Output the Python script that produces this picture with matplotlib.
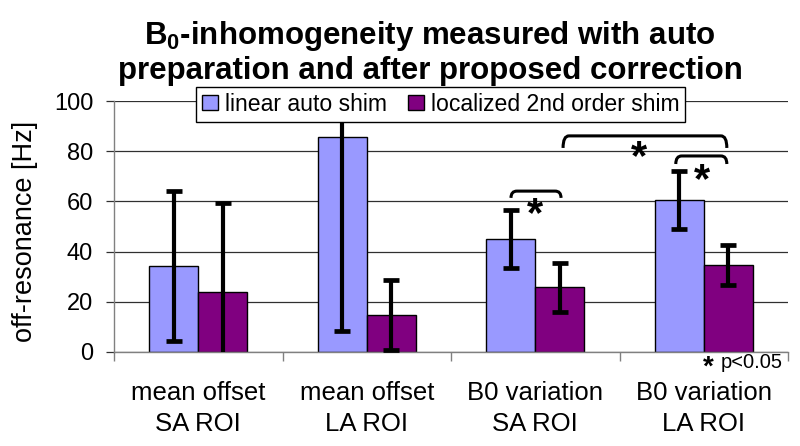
import matplotlib
matplotlib.use("Agg")
import matplotlib.pyplot as plt
from matplotlib import font_manager
from matplotlib.path import Path
from matplotlib.patches import PathPatch, Patch
import numpy as np

# ---- data ----
categories = ["mean offset\nSA ROI", "mean offset\nLA ROI", "B0 variation\nSA ROI", "B0 variation\nLA ROI"]
series_names = ["linear auto shim", "localized 2nd order shim"]
linear_vals = [34.3, 85.5, 45.0, 60.6]
linear_err = [29.8, 77.0, 11.4, 11.6]
local_vals = [24.0, 14.7, 25.8, 34.6]
local_err = [35.4, 14.0, 9.8, 8.0]
ylabel = "off-resonance [Hz]"
title_lines = [r"B$_\mathbf{0}$-inhomogeneity measured with auto", "preparation and after proposed correction"]
yticks = [0, 20, 40, 60, 80, 100]
# significance brackets: (x_start, x_end, y_end, y_top, star_x, star_y)
brackets = [(1.856, 2.153, 61.4, 64.1, 1.998, 58.6),
            (2.165, 3.137, 81.3, 86.1, 2.616, 81.3),
            (2.834, 3.137, 74.9, 78.1, 2.990, 72.1)]

names = {f.name for f in font_manager.fontManager.ttflist}
base_font = "Liberation Sans" if "Liberation Sans" in names else "DejaVu Sans"
narrow_font = "Liberation Sans Narrow" if "Liberation Sans Narrow" in names else base_font
plt.rcParams["font.family"] = [base_font, "DejaVu Sans"]
plt.rcParams["mathtext.fontset"] = "custom"
plt.rcParams["mathtext.rm"] = narrow_font
plt.rcParams["mathtext.bf"] = narrow_font + ":bold"

blue = "#9999FF"
purple = "#800080"

fig = plt.figure(figsize=(8, 4.46), dpi=100)
W, H = 800, 446
ax = fig.add_axes([114 / W, 1 - 352 / H, (788 - 114) / W, (352 - 101) / H])

x = np.arange(len(categories))
bw = 0.29
ax.bar(x - bw / 2, linear_vals, bw, color=blue, edgecolor="black", linewidth=1.0, zorder=2)
ax.bar(x + bw / 2, local_vals, bw, color=purple, edgecolor="black", linewidth=1.0, zorder=2)
ax.errorbar(x - bw / 2, linear_vals, yerr=linear_err, fmt="none", ecolor="black",
            elinewidth=3, capsize=5.5, capthick=3.4, zorder=3)
ax.errorbar(x + bw / 2, local_vals, yerr=local_err, fmt="none", ecolor="black",
            elinewidth=3, capsize=5.5, capthick=3.4, zorder=3)

ax.set_xlim(-0.5, 3.5)
ax.set_ylim(0, 100)
ax.set_yticks(yticks)
ax.set_yticklabels([str(t) for t in yticks], fontsize=17)
ax.tick_params(axis="y", direction="out", length=6, width=0.9, color="#303030", pad=9)
ax.set_xticks(x)
ax.set_xticklabels(categories, fontsize=18.5, linespacing=1.38)
ax.tick_params(axis="x", which="major", length=0, pad=21)
ax.set_xticks(np.arange(-0.5, 4.0, 1.0), minor=True)
ax.tick_params(axis="x", which="minor", direction="out", length=6.5, width=1, color="#808080")

ax.yaxis.grid(True, color="#303030", linewidth=0.9)
ax.set_axisbelow(True)
for s in ["top", "right"]:
    ax.spines[s].set_visible(False)
for s in ["left", "bottom"]:
    ax.spines[s].set_color("#808080")
    ax.spines[s].set_linewidth(1.0)

# legend
handles = [Patch(facecolor=blue, edgecolor="black", linewidth=1.0),
           Patch(facecolor=purple, edgecolor="black", linewidth=1.0)]
leg = ax.legend(handles, series_names, loc="upper left", ncol=2,
                bbox_to_anchor=(196 / W, 1 - 87 / H), bbox_transform=fig.transFigure,
                fontsize=16.6, handlelength=0.7, handleheight=0.6, handletextpad=0.3,
                columnspacing=0.9, borderpad=0.25, borderaxespad=0, fancybox=False,
                framealpha=1, edgecolor="black")
leg.get_frame().set_linewidth(1.0)
leg.set_zorder(10)

# brackets and stars
for (x0, x1, ye, yt, sx, sy) in brackets:
    rx = 0.035
    verts = [(x0, ye), (x0, yt), (x0 + rx, yt), (x1 - rx, yt), (x1, yt), (x1, ye)]
    codes = [Path.MOVETO, Path.CURVE3, Path.CURVE3, Path.LINETO, Path.CURVE3, Path.CURVE3]
    ax.add_patch(PathPatch(Path(verts, codes), fill=False, edgecolor="black",
                           linewidth=2.2, clip_on=False, zorder=4))
    fs = 30
    ax.annotate("*", xy=(sx, sy), xytext=(0, -0.50 * fs), textcoords="offset points",
                ha="center", va="baseline", fontsize=fs, fontweight="bold", zorder=4)

# p-value note
fig.text(708 / W, 1 - 375 / H, "*", ha="center", va="baseline", fontsize=20, fontweight="bold")
fig.text(721 / W, 1 - 363 / H, "p<0.05", ha="left", va="center", fontsize=14.5)

# y label
fig.text(25 / W, 1 - 231 / H, ylabel, rotation=90, ha="center", va="center", fontsize=19.5)

# title
for i, line in enumerate(title_lines):
    fig.text(430 / W, 1 - (36 + 35 * i) / H, line, ha="center", va="center",
             fontsize=22.5, fontweight="bold", family=[narrow_font, "DejaVu Sans"])

fig.savefig("out.png", dpi=100)
